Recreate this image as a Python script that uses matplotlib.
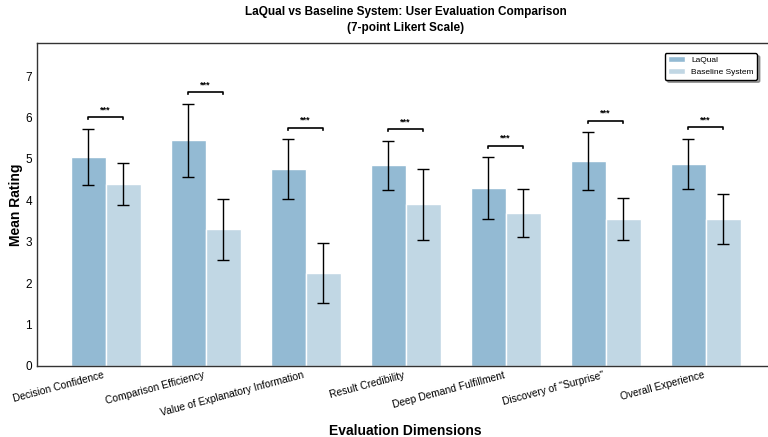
import matplotlib
matplotlib.use("Agg")
import matplotlib.pyplot as plt
import numpy as np

plt.rcParams["font.family"] = ["Liberation Sans", "DejaVu Sans"]

categories = [
    "Decision Confidence",
    "Comparison Efficiency",
    "Value of Explanatory Information",
    "Result Credibility",
    "Deep Demand Fulfillment",
    "Discovery of \"Surprise\"",
    "Overall Experience",
]
laqual_mean = [5.05, 5.45, 4.75, 4.85, 4.30, 4.95, 4.88]
laqual_sd = [0.68, 0.88, 0.72, 0.59, 0.74, 0.69, 0.61]
baseline_mean = [4.40, 3.30, 2.25, 3.90, 3.70, 3.55, 3.55]
baseline_sd = [0.51, 0.74, 0.73, 0.86, 0.58, 0.51, 0.60]
significance = ["***"] * 7

x = np.arange(len(categories))
w = 0.35

fig = plt.figure(figsize=(7.68, 4.37), dpi=100)
# axes run slightly past the right edge of the canvas, as in the reference
ax = fig.add_axes([37 / 768, 1 - 366 / 437, 737 / 768, 323 / 437])

err_kw = dict(ecolor="black", elinewidth=1.0, capsize=4, capthick=1.0)
ax.bar(x - w / 2, laqual_mean, w, yerr=laqual_sd, color="#93bad3",
       edgecolor="white", linewidth=1, label="LaQual", error_kw=err_kw)
ax.bar(x + w / 2, baseline_mean, w, yerr=baseline_sd, color="#c1d7e4",
       edgecolor="white", linewidth=1, label="Baseline System", error_kw=err_kw)

# significance brackets
for i, sig in enumerate(significance):
    top = max(laqual_mean[i] + laqual_sd[i], baseline_mean[i] + baseline_sd[i]) + 0.28
    x0, x1 = x[i] - w / 2, x[i] + w / 2
    ax.plot([x0, x0, x1, x1], [top - 0.05, top, top, top - 0.05], color="black", lw=1.2)
    ax.text(x[i], top + 0.07, sig, ha="center", va="bottom", fontsize=6.5, fontweight="bold")

ax.set_ylim(0, 7.8)
ax.set_yticks(range(0, 8))
ax.set_xticks(x)
ax.set_xticklabels(categories, rotation=15, ha="right", fontsize=7.4)
ax.tick_params(axis="y", labelsize=8.5, length=0)
ax.tick_params(axis="x", length=0, pad=3)
for s in ax.spines.values():
    s.set_color("#333333")
    s.set_linewidth(1.0)

ax.set_ylabel("Mean Rating", fontsize=10, fontweight="bold", labelpad=2)
ax.set_xlabel("Evaluation Dimensions", fontsize=10, fontweight="bold", labelpad=4)
ax.set_title("LaQual vs Baseline System: User Evaluation Comparison\n(7-point Likert Scale)",
             fontsize=8.5, fontweight="bold", pad=9, linespacing=1.35)

leg = ax.legend(loc="upper right", bbox_to_anchor=(0.977, 0.969), borderaxespad=0,
                fontsize=6, frameon=True, shadow=True, fancybox=True)
leg.get_frame().set_edgecolor("black")

fig.savefig("out.png", dpi=100)
